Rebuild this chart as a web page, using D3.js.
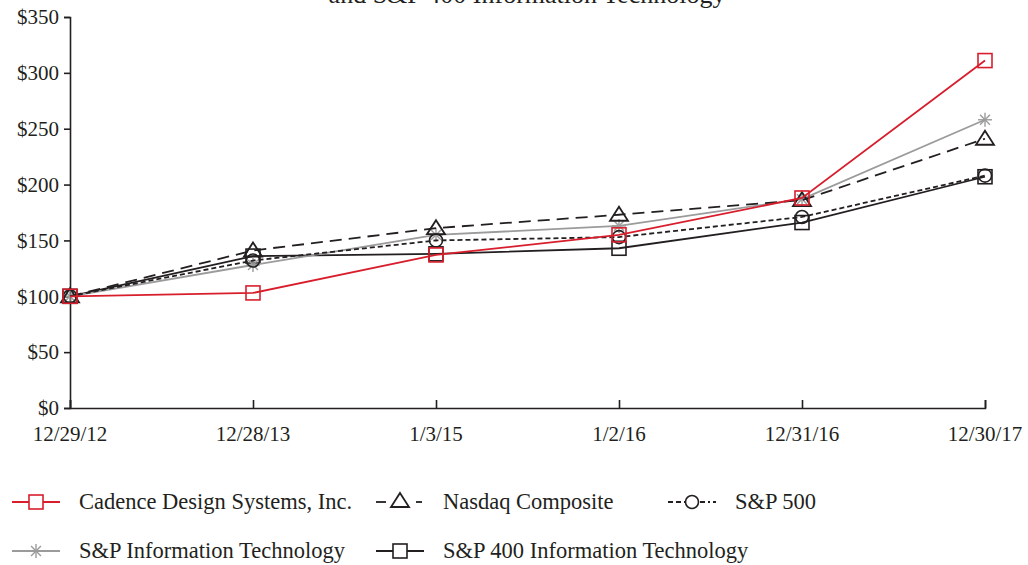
<!DOCTYPE html>
<html>
<head>
<meta charset="utf-8">
<script src="https://cdn.jsdelivr.net/npm/d3@7"></script>
<style>
  body { margin: 0; background: #fff; }
  text { font-family: "Liberation Serif", "Times New Roman", serif; fill: #231f20; }
</style>
</head>
<body>
<div id="chart"></div>
<script>
var dates = ["12/29/12", "12/28/13", "1/3/15", "1/2/16", "12/31/16", "12/30/17"];
var yTicks = [0, 50, 100, 150, 200, 250, 300, 350];

var cadence = [100, 103, 137, 155, 188, 311];
var nasdaq = [100, 141, 161, 173, 186, 241];
var sp500 = [100, 132, 150, 153, 171, 208];
var spIT = [100, 128, 155, 163, 187, 258];
var sp400IT = [100, 136, 138, 143, 166, 207];

var seriesNames = ["Cadence Design Systems, Inc.", "Nasdaq Composite", "S&P 500",
                   "S&P Information Technology", "S&P 400 Information Technology"];

var w = 1028, h = 565;
var padLeft = 70, padRight = 985, padTop = 17, padBottom = 408;

var svg = d3.select("#chart").append("svg")
    .attr("width", w).attr("height", h);

var x = d3.scalePoint().domain(dates).range([padLeft, padRight]);
var y = d3.scaleLinear().domain([0, 350]).range([padBottom, padTop]);

// title, cut off at top
svg.append("text")
    .attr("x", 527).attr("y", 3)
    .attr("text-anchor", "middle")
    .style("font-size", "26px")
    .text("and S&P 400 Information Technology");

var yAxis = d3.axisLeft(y).tickValues(yTicks).tickSize(6).tickPadding(5)
    .tickFormat(function (d) { return "$" + d; });
var xAxis = d3.axisTop(x).tickSize(8).tickFormat("");

var gy = svg.append("g").attr("transform", "translate(" + padLeft + ",0)").call(yAxis);
gy.select(".domain").attr("stroke", "#231f20").attr("stroke-width", 1.6);
gy.selectAll(".tick line").attr("stroke", "#231f20").attr("stroke-width", 1.6);
gy.selectAll(".tick text").style("font-size", "21px").attr("fill", "#231f20")
    .style("font-family", "Liberation Serif");

var gx = svg.append("g").attr("transform", "translate(0," + padBottom + ")").call(xAxis);
gx.select(".domain").attr("stroke", "#231f20").attr("stroke-width", 1.6);
gx.selectAll(".tick line").attr("stroke", "#231f20").attr("stroke-width", 1.6);

svg.selectAll(".xlab").data(dates).enter().append("text")
    .attr("class", "xlab")
    .attr("x", function (d) { return x(d); })
    .attr("y", padBottom + 33)
    .attr("text-anchor", "middle")
    .style("font-size", "21px")
    .text(function (d) { return d; });

var line = d3.line()
    .x(function (d, i) { return x(dates[i]); })
    .y(function (d) { return y(d); });

var series = [
  { name: seriesNames[0], data: cadence, color: "#d81e2c", dash: null, marker: "square" },
  { name: seriesNames[1], data: nasdaq, color: "#231f20", dash: "12,7", marker: "triangle" },
  { name: seriesNames[2], data: sp500, color: "#231f20", dash: "5,3", marker: "circle" },
  { name: seriesNames[3], data: spIT, color: "#9b9b9b", dash: null, marker: "star" },
  { name: seriesNames[4], data: sp400IT, color: "#231f20", dash: null, marker: "square" }
];

function drawMarker(g, type, color, cx, cy, fill) {
  if (type == "square") {
    g.append("rect").attr("x", cx - 7).attr("y", cy - 7).attr("width", 14).attr("height", 14)
        .attr("fill", fill).attr("stroke", color).attr("stroke-width", 1.6);
  } else if (type == "triangle") {
    g.append("path")
        .attr("d", "M" + cx + "," + (cy - 8) + "L" + (cx + 9) + "," + (cy + 6) + "L" + (cx - 9) + "," + (cy + 6) + "Z")
        .attr("fill", fill).attr("stroke", color).attr("stroke-width", 1.8);
  } else if (type == "circle") {
    g.append("circle").attr("cx", cx).attr("cy", cy).attr("r", 6.5)
        .attr("fill", fill).attr("stroke", color).attr("stroke-width", 1.6);
  } else if (type == "star") {
    var r = 7;
    for (var k = 0; k < 4; k++) {
      var a = k * Math.PI / 4;
      g.append("line")
          .attr("x1", cx - r * Math.cos(a)).attr("y1", cy - r * Math.sin(a))
          .attr("x2", cx + r * Math.cos(a)).attr("y2", cy + r * Math.sin(a))
          .attr("stroke", color).attr("stroke-width", 1.4);
    }
  }
}

// draw lines and markers, last series underneath
for (var s = series.length - 1; s >= 0; s--) {
  var sr = series[s];
  var g = svg.append("g");
  g.append("path").datum(sr.data)
      .attr("d", line)
      .attr("fill", "none")
      .attr("stroke", sr.color)
      .attr("stroke-width", 1.8)
      .attr("stroke-dasharray", sr.dash);
  for (var i = 0; i < sr.data.length; i++) {
    drawMarker(g, sr.marker, sr.color, x(dates[i]), y(sr.data[i]), "none");
  }
}

// legend
var legendPos = [[12, 502], [376, 502], [668, 502], [12, 551], [376, 551]];
series.forEach(function (sr, i) {
  var lx = legendPos[i][0], ly = legendPos[i][1];
  var g = svg.append("g");
  if (sr.marker == "circle") {
    g.append("line").attr("x1", lx).attr("x2", lx + 18).attr("y1", ly).attr("y2", ly)
        .attr("stroke", sr.color).attr("stroke-width", 1.8).attr("stroke-dasharray", "5,3");
    g.append("line").attr("x1", lx + 32).attr("x2", lx + 48).attr("y1", ly).attr("y2", ly)
        .attr("stroke", sr.color).attr("stroke-width", 1.8).attr("stroke-dasharray", "5,3,2,3");
  } else if (sr.marker == "triangle") {
    g.append("line").attr("x1", lx).attr("x2", lx + 10).attr("y1", ly).attr("y2", ly)
        .attr("stroke", sr.color).attr("stroke-width", 1.8);
    g.append("line").attr("x1", lx + 40).attr("x2", lx + 46).attr("y1", ly).attr("y2", ly)
        .attr("stroke", sr.color).attr("stroke-width", 1.8);
  } else {
    g.append("line").attr("x1", lx).attr("x2", lx + 48).attr("y1", ly).attr("y2", ly)
        .attr("stroke", sr.color).attr("stroke-width", 1.8);
  }
  drawMarker(g, sr.marker, sr.color, lx + 24, sr.marker == "triangle" ? ly - 1 : ly, "#fff");
  g.append("text").attr("x", lx + 67).attr("y", ly + 7)
      .style("font-size", "22.5px")
      .text(sr.name);
});
</script>
</body>
</html>
